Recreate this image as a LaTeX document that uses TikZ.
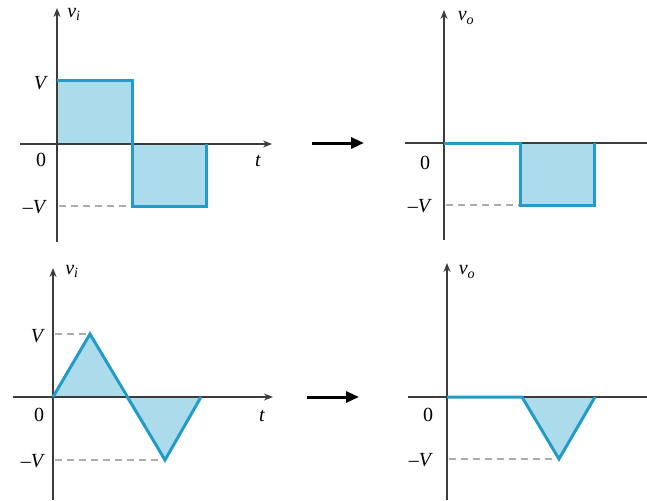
\documentclass[tikz,border=0pt]{standalone}
\usepackage{fontspec}
\setmainfont{Liberation Serif}
\usetikzlibrary{arrows.meta}
\definecolor{wave}{RGB}{35,155,200}
\definecolor{wavefill}{RGB}{172,220,235}
\definecolor{axisc}{RGB}{60,60,60}
\begin{document}
\begin{tikzpicture}[x=1pt,y=-1pt,
  axis/.style={draw=axisc,line width=1.7pt,-{Stealth[length=9pt,width=7pt]}},
  plain/.style={draw=axisc,line width=1.7pt},
  wl/.style={draw=wave,line width=3pt,line join=miter},
  guide/.style={draw=gray!65,line width=1.2pt,dash pattern=on 7pt off 5pt},
  lab/.style={font=\fontsize{20}{24}\selectfont\itshape,inner sep=0pt},
  num/.style={font=\fontsize{20}{24}\selectfont,inner sep=0pt},
  bigarrow/.style={draw=black,line width=3pt,-{Triangle[length=13pt,width=11pt]}}]
\useasboundingbox (0,0) rectangle (647,500);
% ---------- top left ----------
\coordinate (a1o) at (57,144);
\coordinate (a1yb) at (57,242);
\coordinate (a1yt) at (57,8);
\coordinate (a1xl) at (20,144);
\coordinate (a1xr) at (272,144);
\fill[wavefill] (57,144) rectangle (132,81);
\fill[wavefill] (132,144) rectangle (206,206);
\draw[guide] (59,206) -- (132,206);
\draw[plain] (a1yb) -- (a1o);
\draw[axis] (a1o) -- (a1yt);
\draw[axis] (a1xl) -- (a1xr);
\draw[wl] (57,81) -- (132,81) -- (132,206) -- (206,206) -- (206,144);
\node[lab] (vi1) at (74,14) {v\textsubscript{i}};
\node[lab] (V1) at (40,83) {V};
\node[num] (z1) at (41,160) {0};
\node[lab] (mV1) at (34,207) {\textendash V};
\node[lab] (t1) at (258,161) {t};
% ---------- top right ----------
\coordinate (b1o) at (444,143);
\coordinate (b1yb) at (444,240);
\coordinate (b1yt) at (444,10);
\coordinate (b1xl) at (405,143);
\coordinate (b1xr) at (650,143);
\fill[wavefill] (520,143) rectangle (594,205);
\draw[guide] (446,205) -- (520,205);
\draw[plain] (b1yb) -- (b1o);
\draw[axis] (b1o) -- (b1yt);
\draw[plain] (b1xl) -- (b1xr);
\draw[wl] (444,143) -- (520,143) -- (520,205) -- (594,205) -- (594,143);
\node[lab] (vo1) at (466,18) {v\textsubscript{o}};
\node[num] (z2) at (425,163) {0};
\node[lab] (mV2) at (419,206) {\textendash V};
% ---------- arrows ----------
\coordinate (ar1s) at (312,143);
\coordinate (ar1e) at (364,143);
\draw[bigarrow] (ar1s) -- (ar1e);
\coordinate (ar2s) at (307,397);
\coordinate (ar2e) at (359,397);
\draw[bigarrow] (ar2s) -- (ar2e);
% ---------- bottom left ----------
\coordinate (c1o) at (53,397);
\coordinate (c1yb) at (53,500);
\coordinate (c1yt) at (53,268);
\coordinate (c1xl) at (13,397);
\coordinate (c1xr) at (273,397);
\fill[wavefill] (53,397) -- (90,334) -- (125,397) -- cycle;
\fill[wavefill] (125,397) -- (165,460) -- (201,397) -- cycle;
\draw[guide] (55,334) -- (88,334);
\draw[guide] (55,460) -- (163,460);
\draw[plain] (c1yb) -- (c1o);
\draw[axis] (c1o) -- (c1yt);
\draw[axis] (c1xl) -- (c1xr);
\draw[wl] (53,397) -- (90,334) -- (165,460) -- (201,397);
\node[lab] (vi2) at (72,271) {v\textsubscript{i}};
\node[lab] (V2) at (37,336) {V};
\node[num] (z3) at (39,415) {0};
\node[lab] (mV3) at (32,461) {\textendash V};
\node[lab] (t2) at (262,416) {t};
% ---------- bottom right ----------
\coordinate (d1o) at (447,397);
\coordinate (d1yb) at (447,500);
\coordinate (d1yt) at (447,263);
\coordinate (d1xl) at (408,397);
\coordinate (d1xr) at (650,397);
\fill[wavefill] (522,397) -- (559,459) -- (595,397) -- cycle;
\draw[guide] (449,459) -- (557,459);
\draw[plain] (d1yb) -- (d1o);
\draw[axis] (d1o) -- (d1yt);
\draw[plain] (d1xl) -- (d1xr);
\draw[wl] (447,397) -- (522,397) -- (559,459) -- (595,397);
\node[lab] (vo2) at (467,272) {v\textsubscript{o}};
\node[num] (z4) at (428,415) {0};
\node[lab] (mV4) at (420,460) {\textendash V};
\end{tikzpicture}
\end{document}
